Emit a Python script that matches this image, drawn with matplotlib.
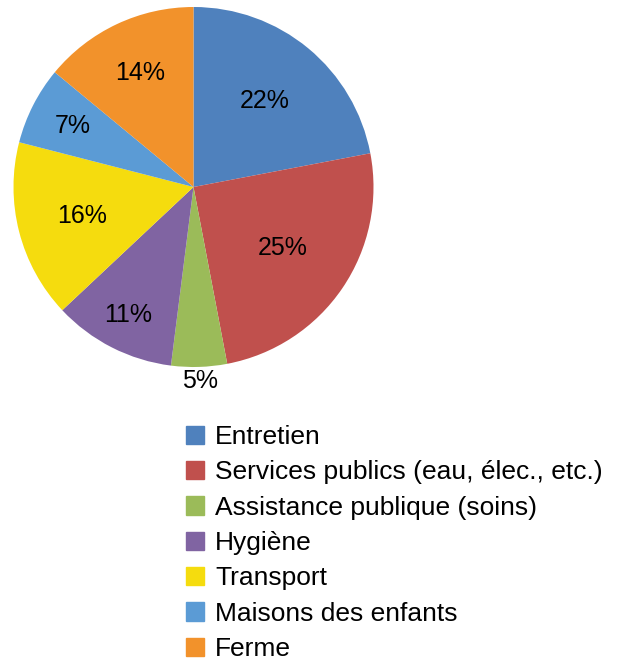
import numpy as np
import matplotlib.pyplot as plt

plt.rcParams['font.family'] = ['Liberation Sans', 'DejaVu Sans']

categories = ['Entretien', 'Services publics (eau, élec., etc.)',
              'Assistance publique (soins)', 'Hygiène', 'Transport',
              'Maisons des enfants', 'Ferme']
values = [22, 25, 5, 11, 16, 7, 14]

colors = ['#4F81BD', '#C0504D', '#9BBB59', '#8064A2', '#F5DC0E', '#5B9BD5', '#F2922B']
# distance of each % label from the centre (fraction of the radius)
label_dist = [0.62, 0.60, 1.08, 0.80, 0.64, 0.75, 0.70]

fig = plt.figure(figsize=(6.34, 6.64), dpi=100)
ax = fig.add_axes([13.5 / 634, 1 - 367 / 664, 360 / 634, 360 / 664])

wedges, _ = ax.pie(values, colors=colors, startangle=90, counterclock=False,
                   wedgeprops=dict(linewidth=0))
ax.set_xlim(-1, 1)
ax.set_ylim(-1, 1)

for w, v, d in zip(wedges, values, label_dist):
    mid = np.deg2rad((w.theta1 + w.theta2) / 2)
    ax.text(d * np.cos(mid), d * np.sin(mid), f'{v}%', ha='center', va='center',
            fontsize=18, color='black')

handles = [plt.Rectangle((0, 0), 1, 1, color=c) for c in colors]
fig.legend(handles, categories, loc='upper left',
           bbox_to_anchor=(186 / 634, 1 - 425 / 664),
           frameon=False, fontsize=19, handlelength=0.7, handleheight=0.7,
           handletextpad=0.4, labelspacing=0.43, borderpad=0, borderaxespad=0)

fig.savefig('out.png', dpi=100)
